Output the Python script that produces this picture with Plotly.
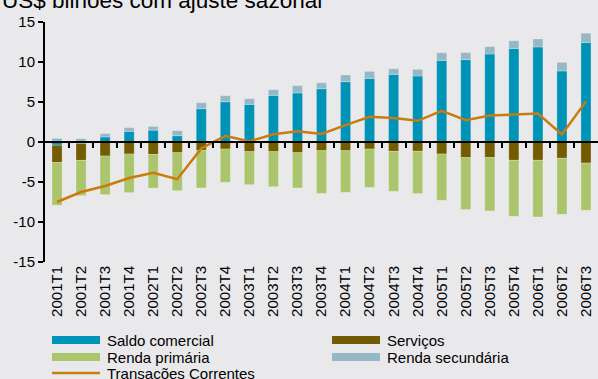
import plotly.graph_objects as go

# Quarterly current-account components, US$ billions, seasonally adjusted
quarters = ["2001T1", "2001T2", "2001T3", "2001T4", "2002T1", "2002T2", "2002T3",
            "2002T4", "2003T1", "2003T2", "2003T3", "2003T4", "2004T1", "2004T2",
            "2004T3", "2004T4", "2005T1", "2005T2", "2005T3", "2005T4", "2006T1",
            "2006T2", "2006T3"]

saldo_comercial = [-0.40, -0.20, 0.63, 1.33, 1.48, 0.79, 4.16, 5.04, 4.70, 5.83, 6.13, 6.66,
                   7.54, 7.95, 8.45, 8.25, 10.20, 10.30, 11.00, 11.70, 11.88, 8.88, 12.43]
servicos = [-2.17, -2.10, -1.75, -1.50, -1.56, -1.34, -1.05, -0.88, -1.21, -1.21, -1.34, -1.09,
            -1.09, -0.88, -1.17, -1.16, -1.50, -1.95, -1.95, -2.29, -2.29, -2.04, -2.63]
renda_primaria = [-5.33, -4.40, -4.83, -4.83, -4.20, -4.75, -4.70, -4.17, -4.13, -4.38, -4.41,
                  -5.34, -5.21, -4.80, -5.00, -5.29, -5.79, -6.50, -6.67, -7.00, -7.08, -7.00,
                  -5.91]
renda_secundaria = [0.46, 0.42, 0.42, 0.48, 0.46, 0.63, 0.75, 0.75, 0.71, 0.71, 0.92, 0.75,
                    0.84, 0.88, 0.71, 0.83, 0.96, 0.88, 0.92, 0.96, 1.00, 1.08, 1.17]
transacoes_correntes = [-7.50, -6.25, -5.50, -4.50, -3.85, -4.65, -0.80, 0.77, 0.07, 0.97,
                        1.33, 1.00, 2.10, 3.15, 3.00, 2.65, 3.90, 2.72, 3.30, 3.40, 3.55, 0.94,
                        5.08]

y_ticks = [-15, -10, -5, 0, 5, 10, 15]

C_SALDO = "#0093b8"
C_SERV = "#735b00"
C_PRIM = "#abc56c"
C_SEC = "#96b8c4"
C_TC = "#c97b0d"
BG = "#e9e9ec"
FONT = "Liberation Sans, Arial, sans-serif"

fig = go.Figure()
bar_line = dict(color="rgba(255,255,255,0.25)", width=1)
for name, vals, col in [("Saldo comercial", saldo_comercial, C_SALDO),
                        ("Serviços", servicos, C_SERV),
                        ("Renda primária", renda_primaria, C_PRIM),
                        ("Renda secundária", renda_secundaria, C_SEC)]:
    fig.add_trace(go.Bar(x=quarters, y=vals, name=name, marker=dict(color=col, line=bar_line),
                         showlegend=False))

fig.add_trace(go.Scatter(x=quarters, y=transacoes_correntes, name="Transações Correntes",
                         mode="lines", line=dict(color=C_TC, width=2.5), showlegend=False))

# empty trace so the zero-line axis gets drawn
fig.add_trace(go.Scatter(x=[], y=[], xaxis="x2", showlegend=False, hoverinfo="skip"))

fig.update_layout(
    width=598, height=379,
    margin=dict(l=45, r=0, t=22, b=117),
    paper_bgcolor=BG, plot_bgcolor=BG,
    barmode="relative", bargap=0.58,
    font=dict(family=FONT, size=15, color="#000000"),
    xaxis=dict(type="category", categoryorder="array", categoryarray=quarters,
               range=[-0.5, len(quarters) - 0.5], showline=False, ticks="",
               showgrid=False, zeroline=False, tickangle=-90,
               tickfont=dict(size=15, family=FONT)),
    xaxis2=dict(overlaying="x", anchor="free", position=0.5, type="linear",
                range=[-0.5, len(quarters) - 0.5],
                tickvals=[i + 0.5 for i in range(len(quarters) - 1)],
                ticks="outside", ticklen=5, tickwidth=2, tickcolor="#000000",
                showticklabels=False, showline=True, linewidth=2, linecolor="#000000",
                showgrid=False, zeroline=False),
    yaxis=dict(range=[-15, 15], tickvals=y_ticks, ticktext=[str(v) for v in y_ticks],
               showline=True, linewidth=2, linecolor="#000000", ticks="outside",
               ticklen=5, tickwidth=2, tickcolor="#000000", showgrid=False,
               zeroline=False, tickfont=dict(size=15, family=FONT)),
)

# Title (top-left), partially above the canvas
fig.add_annotation(text="US$ bilhões com ajuste sazonal", xref="paper", yref="paper",
                   x=(0 - 45) / 553, y=1 + 22 / 240, xanchor="left", yanchor="middle",
                   showarrow=False, font=dict(size=22.5, family=FONT, color="#000000"))

# Legend drawn in pixel-like paper coordinates
def px_x(p):
    return (p - 45) / 553


def px_y(p):
    return (262 - p) / 240


legend_items = [
    ("Saldo comercial", C_SALDO, "bar", 52, 340),
    ("Serviços", C_SERV, "bar", 332, 340),
    ("Renda primária", C_PRIM, "bar", 52, 357),
    ("Renda secundária", C_SEC, "bar", 332, 357),
    ("Transações Correntes", C_TC, "line", 52, 373),
]
for label, col, kind, x0, yc in legend_items:
    if kind == "bar":
        fig.add_shape(type="rect", xref="paper", yref="paper",
                      x0=px_x(x0), x1=px_x(x0 + 48), y0=px_y(yc + 4), y1=px_y(yc - 4),
                      fillcolor=col, line=dict(width=0))
    else:
        fig.add_shape(type="line", xref="paper", yref="paper",
                      x0=px_x(x0), x1=px_x(x0 + 48), y0=px_y(yc), y1=px_y(yc),
                      line=dict(color=col, width=2.5))
    fig.add_annotation(text=label, xref="paper", yref="paper", x=px_x(x0 + 53), y=px_y(yc),
                       xanchor="left", yanchor="middle", showarrow=False,
                       font=dict(size=15, family=FONT, color="#000000"))

fig.write_html("out.html")
